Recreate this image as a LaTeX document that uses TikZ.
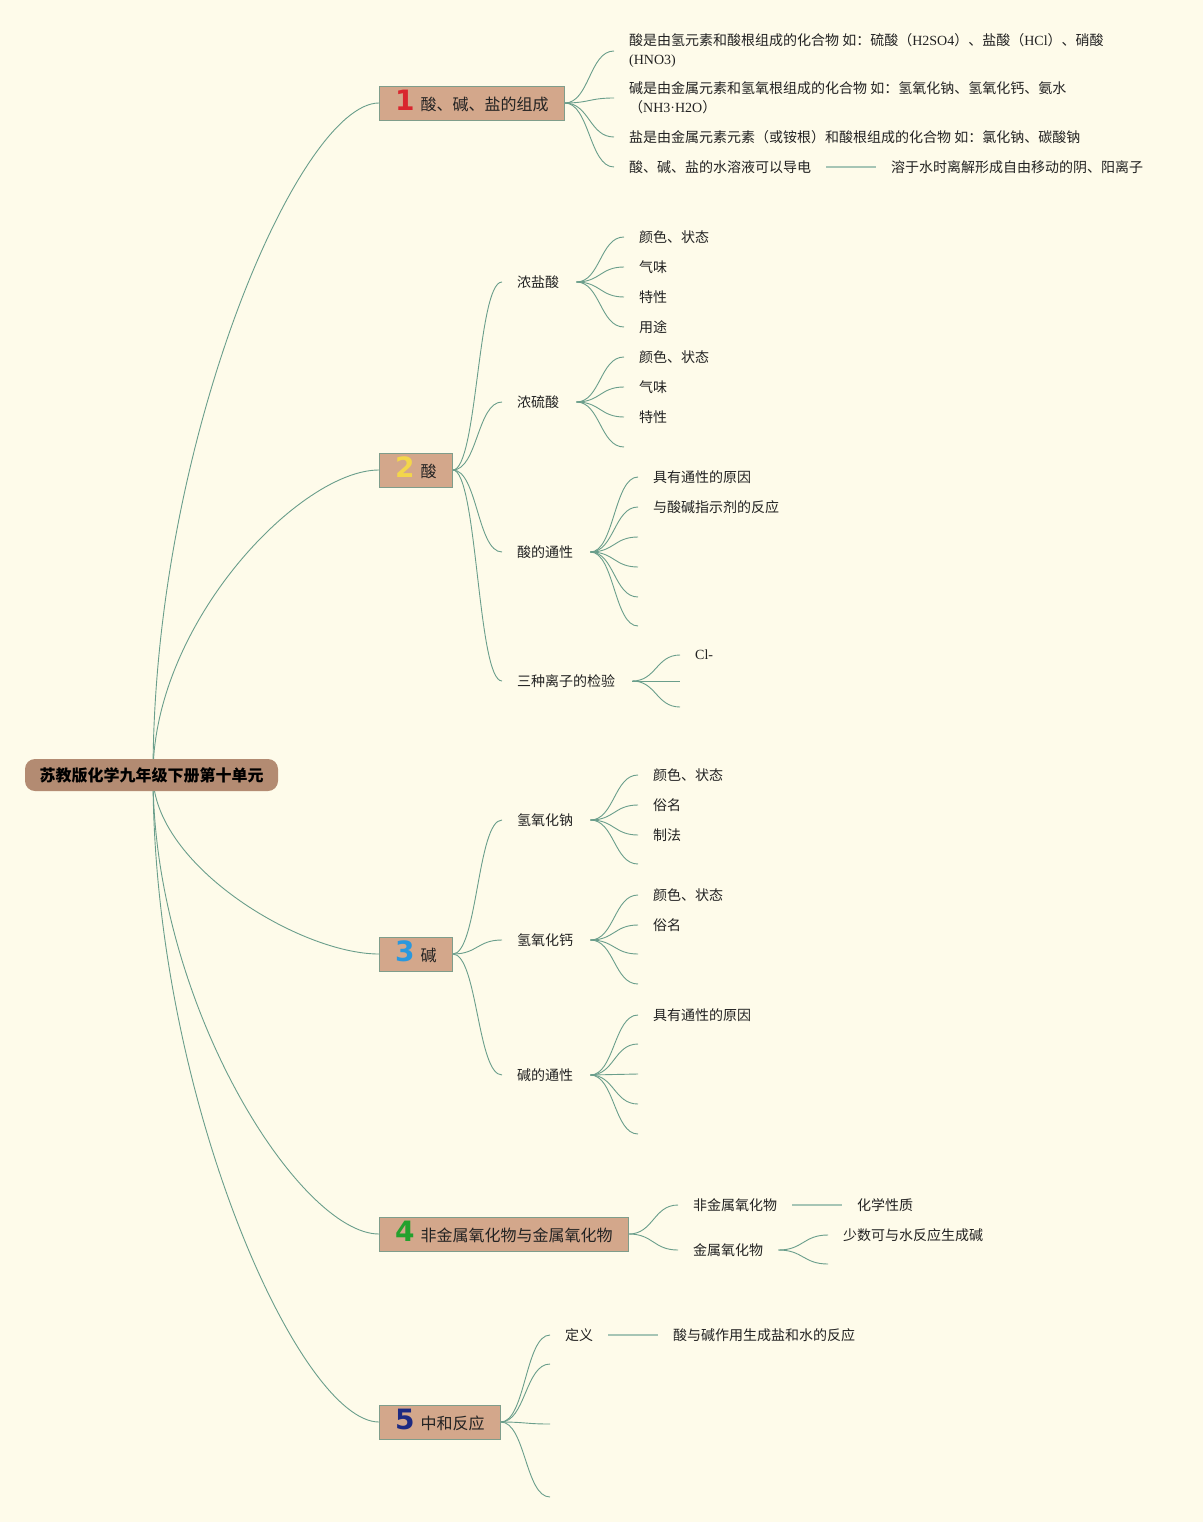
\documentclass[tikz,border=0pt]{standalone}
\usepackage{fontspec}
\setmainfont{Noto Sans CJK SC}
\newfontfamily\lat{Liberation Serif}
\newfontfamily\numfont{DejaVu Sans}
\usetikzlibrary{calc}
\pgfdeclarelayer{back}
\pgfsetlayers{back,main}
\definecolor{bgc}{HTML}{FEFBEA}
\definecolor{rootc}{HTML}{B38B72}
\definecolor{boxc}{HTML}{D3A78B}
\definecolor{boxline}{HTML}{7F9D8B}
\definecolor{linec}{HTML}{6A9E8B}
\definecolor{linkc}{HTML}{A6C5B5}
\definecolor{txt}{HTML}{222222}
\definecolor{nA}{HTML}{D9262E}
\definecolor{nB}{HTML}{F3D64B}
\definecolor{nC}{HTML}{2A98DE}
\definecolor{nD}{HTML}{23A12D}
\definecolor{nE}{HTML}{1D2A82}
\newcommand\bnum[2]{{\numfont\bfseries\fontsize{28}{28}\selectfont\color{#1}#2}\hspace{6pt}}
\begin{document}
\begin{tikzpicture}[x=1pt,y=-1pt,
 txtnode/.style={anchor=west, inner sep=0pt, text=txt, font=\fontsize{14}{19}\selectfont},
 branch/.style={draw=boxline, line width=0.8pt, fill=boxc, anchor=west, minimum height=34pt, inner sep=0pt, text height=20pt, text depth=5pt, text=txt, font=\fontsize{16}{16}\selectfont},
 rootnode/.style={fill=rootc, rounded corners=10pt, minimum width=253pt, minimum height=32pt, inner sep=0pt, font=\bfseries\fontsize{16}{16}\selectfont, text=black},
 conn/.style={draw=linec, line width=0.9pt},
 hz/.style={to path={let \p1=(\tikztostart), \p2=(\tikztotarget) in .. controls ({(\x1+\x2)/2},\y1) and ({(\x1+\x2)/2},\y2) .. (\tikztotarget)}},
 link/.style={draw=linkc, line width=1.6pt}]
\useasboundingbox (0,0) rectangle (1203,1522);
\begin{pgfonlayer}{back}
\fill[bgc] (0,0) rectangle (1203,1522);
\end{pgfonlayer}

% root and branches
\node[rootnode] (root) at (151.5,775) {苏教版化学九年级下册第十单元};
\coordinate (rc) at (153,775);
\node[branch, minimum width=185pt] (b1) at (379,103) {\bnum{nA}{1}酸、碱、盐的组成};
\node[branch, minimum width=73pt] (b2) at (379,470) {\bnum{nB}{2}酸};
\node[branch, minimum width=73pt] (b3) at (379,954) {\bnum{nC}{3}碱};
\node[branch, minimum width=249pt] (b4) at (379,1234) {\bnum{nD}{4}非金属氧化物与金属氧化物};
\node[branch, minimum width=121pt] (b5) at (379,1422) {\bnum{nE}{5}中和反应};

% branch 1
\node[txtnode, align=left] (l11) at (629,51) {酸是由氢元素和酸根组成的化合物 如：硫酸（{\lat H2SO4}）、盐酸（{\lat HCl}）、硝酸\\{\lat (HNO3)}};
\node[txtnode, align=left] (l12) at (629,98) {碱是由金属元素和氢氧根组成的化合物 如：氢氧化钠、氢氧化钙、氨水\\（{\lat NH3·H2O}）};
\node[txtnode] (l13) at (629,137) {盐是由金属元素元素（或铵根）和酸根组成的化合物 如：氯化钠、碳酸钠};
\node[txtnode] (l14) at (629,167) {酸、碱、盐的水溶液可以导电};
\node[txtnode] (l141) at (891,167) {溶于水时离解形成自由移动的阴、阳离子};

% branch 2
\node[txtnode] (s21) at (517,282) {浓盐酸};
\node[txtnode] (s22) at (517,402) {浓硫酸};
\node[txtnode] (s23) at (517,552) {酸的通性};
\node[txtnode] (s24) at (517,681) {三种离子的检验};
\node[txtnode] (s211) at (639,237) {颜色、状态};
\node[txtnode] (s212) at (639,267) {气味};
\node[txtnode] (s213) at (639,297) {特性};
\node[txtnode] (s214) at (639,327) {用途};
\node[txtnode] (s221) at (639,357) {颜色、状态};
\node[txtnode] (s222) at (639,387) {气味};
\node[txtnode] (s223) at (639,417) {特性};
\coordinate (s224) at (624,447);
\node[txtnode] (s231) at (653,477) {具有通性的原因};
\node[txtnode] (s232) at (653,507) {与酸碱指示剂的反应};
\coordinate (s233) at (638,537);
\coordinate (s234) at (638,567);
\coordinate (s235) at (638,597);
\coordinate (s236) at (638,626);
\node[txtnode] (s241) at (695,655) {\lat Cl-};
\coordinate (s242) at (680,681);
\coordinate (s243) at (680,707);

% branch 3
\node[txtnode] (s31) at (517,820) {氢氧化钠};
\node[txtnode] (s32) at (517,940) {氢氧化钙};
\node[txtnode] (s33) at (517,1075) {碱的通性};
\node[txtnode] (s311) at (653,775) {颜色、状态};
\node[txtnode] (s312) at (653,805) {俗名};
\node[txtnode] (s313) at (653,835) {制法};
\coordinate (s314) at (638,864);
\node[txtnode] (s321) at (653,895) {颜色、状态};
\node[txtnode] (s322) at (653,925) {俗名};
\coordinate (s323) at (638,954);
\coordinate (s324) at (638,984);
\node[txtnode] (s331) at (653,1015) {具有通性的原因};
\coordinate (s332) at (638,1044);
\coordinate (s333) at (638,1074);
\coordinate (s334) at (638,1104);
\coordinate (s335) at (638,1134);

% branch 4
\node[txtnode] (s41) at (693,1205) {非金属氧化物};
\node[txtnode] (s411) at (857,1205) {化学性质};
\node[txtnode] (s42) at (693,1250) {金属氧化物};
\node[txtnode] (s421) at (843,1235) {少数可与水反应生成碱};
\coordinate (s422) at (828,1264);

% branch 5
\node[txtnode] (s51) at (565,1335) {定义};
\node[txtnode] (s511) at (673,1335) {酸与碱作用生成盐和水的反应};
\coordinate (s52) at (550,1364);
\coordinate (s53) at (550,1424);
\coordinate (s54) at (550,1497);

\begin{pgfonlayer}{back}
% root curves
\draw[conn] (rc) to[out=90,in=180,out distance=336pt,in distance=79pt] (b1.west);
\draw[conn] (rc) to[out=90,in=180,out distance=152pt,in distance=79pt] (b2.west);
\draw[conn] (rc) to[out=-90,in=180,out distance=90pt,in distance=79pt] (b3.west);
\draw[conn] (rc) to[out=-90,in=180,out distance=230pt,in distance=79pt] (b4.west);
\draw[conn] (rc) to[out=-90,in=180,out distance=323pt,in distance=79pt] (b5.west);
% branch 1
\foreach \q in {l11,l12,l13,l14} \draw[conn] (b1.east) to[hz] ([xshift=-15pt]\q.west);
\draw[link] ([xshift=15pt]l14.east) -- ([xshift=-15pt]l141.west);
% branch 2
\foreach \q in {s21,s22,s23,s24} \draw[conn] (b2.east) to[hz] ([xshift=-15pt]\q.west);
\foreach \q in {s211,s212,s213,s214} \draw[conn] ([xshift=17pt]s21.east) to[hz] ([xshift=-15pt]\q.west);
\foreach \q in {s221,s222,s223} \draw[conn] ([xshift=17pt]s22.east) to[hz] ([xshift=-15pt]\q.west);
\draw[conn] ([xshift=17pt]s22.east) to[hz] (s224);
\foreach \q in {s231,s232} \draw[conn] ([xshift=17pt]s23.east) to[hz] ([xshift=-15pt]\q.west);
\foreach \q in {s233,s234,s235,s236} \draw[conn] ([xshift=17pt]s23.east) to[hz] (\q);
\draw[conn] ([xshift=17pt]s24.east) to[hz] ([xshift=-15pt]s241.west);
\foreach \q in {s242,s243} \draw[conn] ([xshift=17pt]s24.east) to[hz] (\q);
% branch 3
\foreach \q in {s31,s32,s33} \draw[conn] (b3.east) to[hz] ([xshift=-15pt]\q.west);
\foreach \q in {s311,s312,s313} \draw[conn] ([xshift=17pt]s31.east) to[hz] ([xshift=-15pt]\q.west);
\draw[conn] ([xshift=17pt]s31.east) to[hz] (s314);
\foreach \q in {s321,s322} \draw[conn] ([xshift=17pt]s32.east) to[hz] ([xshift=-15pt]\q.west);
\foreach \q in {s323,s324} \draw[conn] ([xshift=17pt]s32.east) to[hz] (\q);
\draw[conn] ([xshift=17pt]s33.east) to[hz] ([xshift=-15pt]s331.west);
\foreach \q in {s332,s333,s334,s335} \draw[conn] ([xshift=17pt]s33.east) to[hz] (\q);
% branch 4
\foreach \q in {s41,s42} \draw[conn] (b4.east) to[hz] ([xshift=-15pt]\q.west);
\draw[link] ([xshift=15pt]s41.east) -- ([xshift=-15pt]s411.west);
\draw[conn] ([xshift=15pt]s42.east) to[hz] ([xshift=-15pt]s421.west);
\draw[conn] ([xshift=15pt]s42.east) to[hz] (s422);
% branch 5
\draw[conn] (b5.east) to[hz] ([xshift=-15pt]s51.west);
\foreach \q in {s52,s53,s54} \draw[conn] (b5.east) to[hz] (\q);
\draw[link] ([xshift=15pt]s51.east) -- ([xshift=-15pt]s511.west);
\end{pgfonlayer}
\end{tikzpicture}
\end{document}
